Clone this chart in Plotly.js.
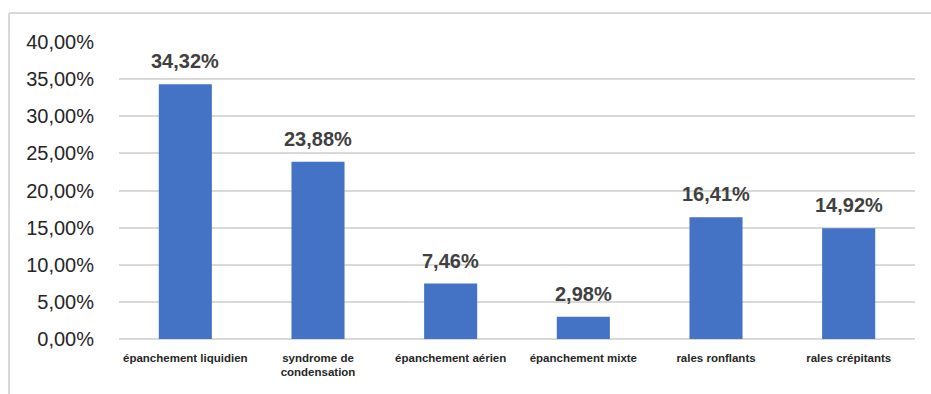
<!DOCTYPE html>
<html>
<head>
<meta charset="utf-8">
<script src="https://cdn.plot.ly/plotly-3.0.1.min.js"></script>
<style>
  html, body { margin: 0; padding: 0; background: #fff; }
  #chart { width: 931px; height: 394px; }
</style>
</head>
<body>
<div id="chart"></div>
<script>
// Signes cliniques observés (% des patients)
const categories = [
  "épanchement liquidien",
  "syndrome de<br>condensation",
  "épanchement aérien",
  "épanchement mixte",
  "rales ronflants",
  "rales crépitants"
];
const values = [34.32, 23.88, 7.46, 2.98, 16.41, 14.92];
const yTicks = [0, 5, 10, 15, 20, 25, 30, 35, 40];

const fmt = v => v.toFixed(2).replace('.', ',') + '%';

const trace = {
  type: 'bar',
  x: categories,
  y: values,
  marker: { color: '#4472c4' },
  hoverinfo: 'skip'
};

const labels = values.map((v, i) => ({
  x: categories[i],
  y: v,
  xref: 'x',
  yref: 'y',
  text: fmt(v),
  showarrow: false,
  yanchor: 'middle',
  yshift: 23,
  font: { family: 'Liberation Sans, Arial, sans-serif', size: 20, color: '#404040', weight: 'bold' }
}));

// Cadre gris clair (gauche et haut)
const frame = [
  { type: 'line', xref: 'paper', yref: 'paper', x0: -0.1382, x1: -0.1382, y0: -0.2, y1: 1.0976,
    line: { color: '#d9d9d9', width: 2 } },
  { type: 'line', xref: 'paper', yref: 'paper', x0: -0.1382, x1: 1.03, y0: 1.0976, y1: 1.0976,
    line: { color: '#d9d9d9', width: 2 } }
];

const layout = {
  width: 931,
  height: 394,
  margin: { l: 119, r: 16, t: 42, b: 55 },
  paper_bgcolor: '#ffffff',
  plot_bgcolor: '#ffffff',
  bargap: 0.6,
  showlegend: false,
  xaxis: {
    type: 'category',
    showgrid: false,
    showline: false,
    zeroline: false,
    ticks: '',
    ticklabelstandoff: 10,
    tickfont: { family: 'Liberation Sans, Arial, sans-serif', size: 11.5, color: '#262626', weight: 'bold' }
  },
  yaxis: {
    range: [0, 40],
    tickmode: 'array',
    tickvals: yTicks,
    ticktext: yTicks.map(fmt),
    showgrid: true,
    gridcolor: '#d9d9d9',
    gridwidth: 2,
    zeroline: true,
    zerolinecolor: '#d9d9d9',
    zerolinewidth: 2,
    showline: false,
    ticks: '',
    ticklabelstandoff: 24,
    tickfont: { family: 'Liberation Sans, Arial, sans-serif', size: 20, color: '#262626' }
  },
  annotations: labels,
  shapes: frame
};

Plotly.newPlot('chart', [trace], layout, { displayModeBar: false, staticPlot: true });
</script>
</body>
</html>
